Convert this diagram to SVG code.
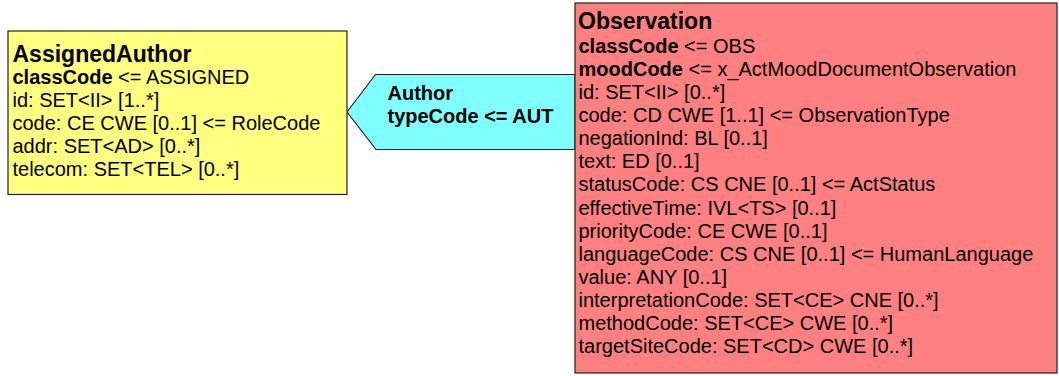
<svg xmlns="http://www.w3.org/2000/svg" width="1059" height="376" viewBox="0 0 1059 376">
<style>
text { font-family: "Liberation Sans", Arial, sans-serif; font-size: 20px; fill: #000; }
.title { font-weight: bold; font-size: 23px; }
.b { font-weight: bold; }
.box { stroke: #222; stroke-width: 1.2; }
</style>
<rect width="1059" height="376" fill="#fff"/>
<g id="connectors">
  <g id="author-association">
    <polygon points="347,112 375.5,74.5 575,74.5 575,149.5 376,149.5" fill="#80ffff" class="box"/>
    <text x="387.5" y="100" class="b">Author</text>
    <text x="387.5" y="123" class="b">typeCode &lt;= AUT</text>
  </g>
</g>
<g id="AssignedAuthor">
  <rect x="8" y="31" width="339" height="163.5" fill="#ffff80" class="box"/>
  <text x="12.5" y="61.5" class="title">AssignedAuthor</text>
  <text x="12.5" y="84"><tspan class="b">classCode</tspan> &lt;= ASSIGNED</text>
  <text x="12.5" y="107">id: SET&lt;II&gt; [1..*]</text>
  <text x="12.5" y="130">code: CE CWE [0..1] &lt;= RoleCode</text>
  <text x="12.5" y="153">addr: SET&lt;AD&gt; [0..*]</text>
  <text x="12.5" y="176">telecom: SET&lt;TEL&gt; [0..*]</text>
</g>
<g id="Observation">
  <rect x="575" y="3" width="482" height="370" fill="#ff8080" class="box"/>
  <text x="578" y="29" class="title">Observation</text>
  <text x="578.5" y="52.5"><tspan class="b">classCode</tspan> &lt;= OBS</text>
  <text x="578.5" y="75.6"><tspan class="b">moodCode</tspan> &lt;= x_ActMoodDocumentObservation</text>
  <text x="578.5" y="98.8">id: SET&lt;II&gt; [0..*]</text>
  <text x="578.5" y="121.9">code: CD CWE [1..1] &lt;= ObservationType</text>
  <text x="578.5" y="145.1">negationInd: BL [0..1]</text>
  <text x="578.5" y="168.2">text: ED [0..1]</text>
  <text x="578.5" y="191.4">statusCode: CS CNE [0..1] &lt;= ActStatus</text>
  <text x="578.5" y="214.5">effectiveTime: IVL&lt;TS&gt; [0..1]</text>
  <text x="578.5" y="237.7">priorityCode: CE CWE [0..1]</text>
  <text x="578.5" y="260.8">languageCode: CS CNE [0..1] &lt;= HumanLanguage</text>
  <text x="578.5" y="284">value: ANY [0..1]</text>
  <text x="578.5" y="307.1">interpretationCode: SET&lt;CE&gt; CNE [0..*]</text>
  <text x="578.5" y="330.3">methodCode: SET&lt;CE&gt; CWE [0..*]</text>
  <text x="578.5" y="353.4">targetSiteCode: SET&lt;CD&gt; CWE [0..*]</text>
</g>
</svg>
